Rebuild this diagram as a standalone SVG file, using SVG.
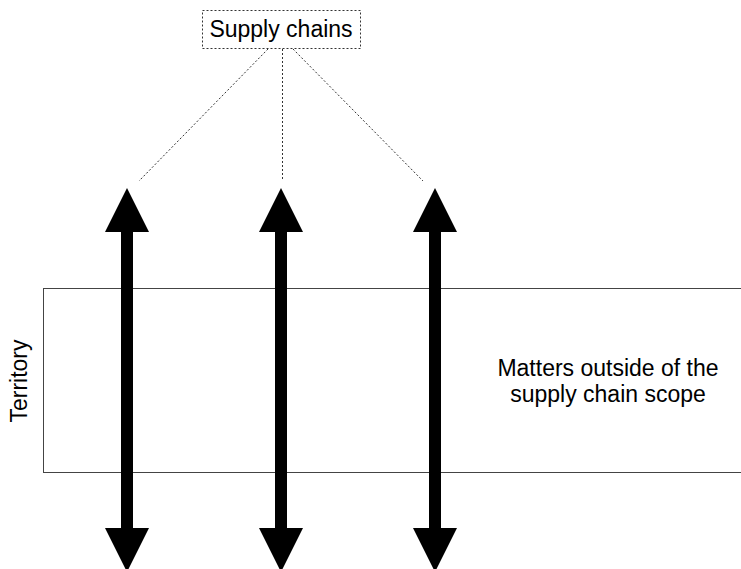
<svg xmlns="http://www.w3.org/2000/svg" width="741" height="569" viewBox="0 0 741 569">
  <style>
    .lbl { font-family: "Liberation Sans", Arial, sans-serif; font-size: 23px; fill: #000; }
    .dash { fill: none; stroke: #333; stroke-width: 1; stroke-dasharray: 2 2; }
    .box { fill: #fff; stroke: #444; stroke-width: 1; }
  </style>
  <defs>
    <polygon id="dbl" points="0,188 22,232 6,232 6,528 22,528 0,572 -22,528 -6,528 -6,232 -22,232" fill="#000"/>
  </defs>
  <rect width="741" height="569" fill="#fff"/>
  <g id="territory">
    <rect class="box" x="43.5" y="288.5" width="710" height="184"/>
    <text class="lbl" transform="translate(27,381) rotate(-90)" text-anchor="middle">Territory</text>
    <text class="lbl" x="608" y="376" text-anchor="middle">Matters outside of the</text>
    <text class="lbl" x="608" y="402" text-anchor="middle">supply chain scope</text>
  </g>
  <g id="supply-chains">
    <rect class="dash" x="202.5" y="10.5" width="158" height="38"/>
    <text class="lbl" x="281" y="37" text-anchor="middle">Supply chains</text>
  </g>
  <g id="connectors">
    <line class="dash" x1="268" y1="49" x2="139" y2="181"/>
    <line class="dash" x1="282.5" y1="49" x2="282.5" y2="179"/>
    <line class="dash" x1="293" y1="49" x2="423" y2="181"/>
    <use href="#dbl" x="127" y="0"/>
    <use href="#dbl" x="281" y="0"/>
    <use href="#dbl" x="435" y="0"/>
  </g>
</svg>
